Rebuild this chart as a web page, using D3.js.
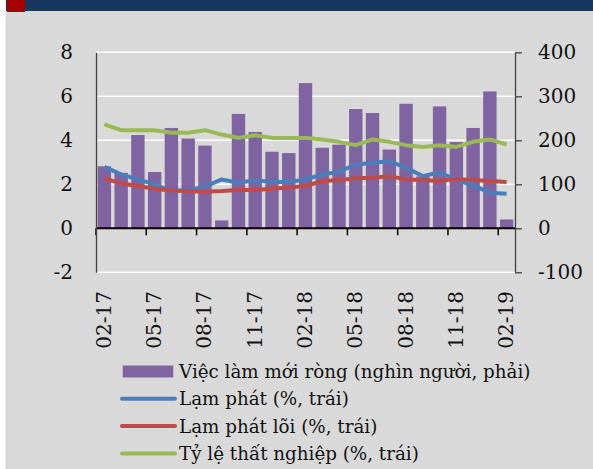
<!DOCTYPE html>
<html>
<head>
<meta charset="utf-8">
<script src="https://cdn.jsdelivr.net/npm/d3@7"></script>
<style>
body { margin: 0; background: #fff; }
svg text { font-family: "DejaVu Serif", serif; fill: #111; }
</style>
</head>
<body>
<script>
// thang 02-17 .. 02-19
const months = ["02-17","03-17","04-17","05-17","06-17","07-17","08-17","09-17","10-17","11-17","12-17","01-18",
  "02-18","03-18","04-18","05-18","06-18","07-18","08-18","09-18","10-18","11-18","12-18","01-19","02-19"];
const jobs = [141,126,212,128,228,204,188,18,260,219,174,171,330,183,190,271,262,179,283,118,277,196,228,311,20];
const inflation = [2.8,2.45,2.22,2.0,1.68,1.74,1.89,2.22,2.07,2.19,2.1,2.1,2.22,2.45,2.57,2.9,2.98,3.05,2.75,2.37,2.55,2.19,1.95,1.62,1.57];
const coreInflation = [2.27,2.04,1.92,1.8,1.72,1.69,1.66,1.69,1.74,1.74,1.8,1.85,1.92,2.15,2.19,2.27,2.3,2.37,2.22,2.19,2.15,2.25,2.19,2.15,2.1];
const unemployment = [4.72,4.46,4.46,4.46,4.34,4.34,4.46,4.26,4.11,4.23,4.11,4.11,4.11,4.04,3.93,3.78,4.04,3.93,3.78,3.7,3.78,3.7,3.93,4.04,3.81];
const leftTicks = [-2,0,2,4,6,8];
const rightTicks = [-100,0,100,200,300,400];
const legendItems = [
  {label: "Việc làm mới ròng (nghìn người, phải)", color: "#8064a2", type: "bar"},
  {label: "Lạm phát (%, trái)", color: "#4a7ebb", type: "line"},
  {label: "Lạm phát lõi (%, trái)", color: "#be4b48", type: "line"},
  {label: "Tỷ lệ thất nghiệp (%, trái)", color: "#98b954", type: "line"}
];

const W = 593, H = 469;
const svg = d3.select("body").append("svg").attr("width", W).attr("height", H);

svg.append("rect").attr("x", 5.5).attr("y", 0).attr("width", W).attr("height", H).attr("fill", "#d9d9d9");
svg.append("rect").attr("x", 6).attr("y", 0).attr("width", W).attr("height", 11).attr("fill", "#17375e");
svg.append("rect").attr("x", 7).attr("y", 0).attr("width", 18).attr("height", 12).attr("fill", "#a50000");

const pLeft = 96, pRight = 515, pTop = 52.3, pBottom = 272.3;
const x = d3.scaleBand().domain(months).range([pLeft, pRight]).paddingInner(0.2).paddingOuter(0.1);
const x0 = d3.scaleBand().domain(months).range([pLeft, pRight]);
const yL = d3.scaleLinear().domain([-2, 8]).range([pBottom, pTop]);
const yR = d3.scaleLinear().domain([-100, 400]).range([pBottom, pTop]);

// luoi ngang
svg.append("g").selectAll("line").data(leftTicks.filter(d => d !== 0)).enter().append("line")
  .attr("x1", pLeft).attr("x2", pRight).attr("y1", d => yL(d)).attr("y2", d => yL(d))
  .attr("stroke", "#fff").attr("stroke-width", 1.5);

// cot
svg.append("g").selectAll("rect").data(jobs).enter().append("rect")
  .attr("x", (d, i) => x(months[i]))
  .attr("width", x.bandwidth())
  .attr("y", d => yR(Math.max(0, d)))
  .attr("height", d => Math.abs(yR(d) - yR(0)))
  .attr("fill", "#8064a2");

// truc 0 va vach
svg.append("line").attr("x1", pLeft).attr("x2", pRight).attr("y1", yL(0)).attr("y2", yL(0))
  .attr("stroke", "#000").attr("stroke-width", 2);
svg.append("g").selectAll("line").data(d3.range(0, months.length + 1, 3)).enter().append("line")
  .attr("x1", i => pLeft + i * x0.step())
  .attr("x2", i => pLeft + i * x0.step())
  .attr("y1", yL(0)).attr("y2", yL(0) + 7)
  .attr("stroke", "#000").attr("stroke-width", 1.5);

const cx = i => x0(months[i]) + x0.bandwidth() / 2;
[[inflation, legendItems[1].color], [coreInflation, legendItems[2].color], [unemployment, legendItems[3].color]]
  .forEach(([vals, col]) => {
    svg.append("path").datum(vals)
      .attr("d", d3.line().x((d, i) => cx(i)).y(d => yL(d)))
      .attr("fill", "none").attr("stroke", col).attr("stroke-width", 4).attr("stroke-linejoin", "round");
  });

// truc trai
const gL = svg.append("g").attr("transform", `translate(${pLeft},0)`)
  .call(d3.axisLeft(yL).tickValues(leftTicks).tickSize(0).tickPadding(23).tickFormat(d => String(d)));
gL.select(".domain").attr("stroke", "#404040").attr("stroke-width", 1.3);
gL.selectAll("text").attr("font-size", 20).style("font-family", "DejaVu Serif").attr("fill", "#111");

// truc phai
const gR = svg.append("g").attr("transform", `translate(${pRight},0)`)
  .call(d3.axisRight(yR).tickValues(rightTicks).tickSize(7).tickSizeOuter(0).tickPadding(16).tickFormat(d => String(d)));
gR.select(".domain").attr("stroke", "#404040").attr("stroke-width", 1.3);
gR.selectAll(".tick line").attr("stroke", "#404040").attr("stroke-width", 1.3);
gR.selectAll("text").attr("font-size", 20).style("font-family", "DejaVu Serif").attr("fill", "#111");

// nhan truc x
svg.append("g").selectAll("text").data(months.filter((d, i) => i % 3 === 0)).enter().append("text")
  .attr("transform", d => `translate(${x0(d) + x0.bandwidth() / 2 + 6.5},${291}) rotate(-90)`)
  .attr("text-anchor", "end")
  .attr("font-size", 20)
  .text(d => d);

// chu giai
const lg = svg.append("g").selectAll("g").data(legendItems).enter().append("g")
  .attr("transform", (d, i) => `translate(0,${371.5 + i * 27.3})`);
lg.filter(d => d.type === "bar").append("rect")
  .attr("x", 122.7).attr("y", -6).attr("width", 50.6).attr("height", 12).attr("fill", d => d.color);
lg.filter(d => d.type === "line").append("line")
  .attr("x1", 122).attr("x2", 175).attr("y1", 0).attr("y2", 0)
  .attr("stroke", d => d.color).attr("stroke-width", 4).attr("stroke-linecap", "round");
lg.append("text").attr("x", 179).attr("y", 6.5).attr("font-size", 18.3).text(d => d.label);
</script>
</body>
</html>
